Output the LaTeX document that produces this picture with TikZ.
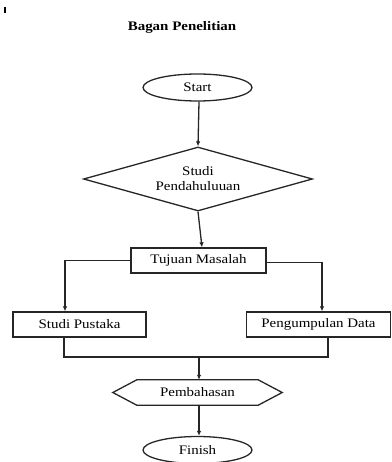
\documentclass[tikz,border=0pt]{standalone}
\usepackage{fontspec}
\setmainfont{Liberation Serif}[FakeStretch=1.15]
\usetikzlibrary{shapes.geometric,arrows.meta}
\begin{document}
\begin{tikzpicture}[x=1pt,y=-1pt,
  every node/.style={font=\fontsize{13}{15}\selectfont, inner sep=0pt, align=center},
  lw/.style={line width=1.3pt, draw=black!85},
  box/.style={lw, rectangle, minimum height=25pt},
  oval/.style={lw, ellipse, minimum width=109pt, minimum height=27pt},
  link/.style={lw},
  arr/.style={lw, -{Latex[length=5pt,width=4.5pt]}}]
\useasboundingbox (0,0) rectangle (391,462);
\draw[line width=1.3pt] (5,7) -- (5,13);
\node[font=\fontsize{13}{15}\selectfont\bfseries] (title) at (182,27) {Bagan Penelitian};
\node[oval] (start) at (197.5,87.5) {Start};
\node[lw, diamond, aspect=3.58, minimum width=229pt, minimum height=64pt] (dia) at (198,179) {Studi\\Pendahuluuan};
\node[box, minimum width=135pt] (tuj) at (198.5,260.5) {Tujuan Masalah};
\node[box, minimum width=133pt] (sp) at (79.5,324.5) {Studi Pustaka};
\node[box, minimum width=144pt] (pd) at (318.5,324.5) {Pengumpulan Data};
\node[rectangle, minimum width=169pt, minimum height=25pt] (hex) at (197.5,392.5) {Pembahasan};
\draw[link] (hex.west) -- ([xshift=24pt]hex.north west) -- ([xshift=-24pt]hex.north east) -- (hex.east) -- ([xshift=-24pt]hex.south east) -- ([xshift=24pt]hex.south west) -- cycle;
\node[oval] (fin) at (197.5,450) {Finish};
\coordinate (m) at (199,357);
\draw[arr] ([xshift=1.5pt]start.south) -- (dia.north);
\draw[arr] (dia.south) -- ([xshift=3.5pt]tuj.north);
\draw[arr] (tuj.west) -| ([xshift=-14.5pt]sp.north);
\draw[arr] ([yshift=-2pt]tuj.east) -| ([xshift=3.5pt]pd.north);
\draw[link] ([xshift=-15.5pt]sp.south) |- (m) -| ([xshift=9.5pt]pd.south);
\draw[arr] (m) -- ([xshift=1.5pt]hex.north);
\draw[arr] ([xshift=1.5pt]hex.south) -- ([xshift=1.5pt]fin.north);
\end{tikzpicture}
\end{document}
